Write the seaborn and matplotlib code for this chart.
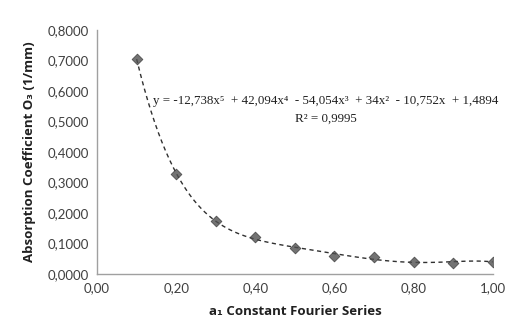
import numpy as np
import pandas as pd
import matplotlib
matplotlib.use('Agg')
import matplotlib.pyplot as plt
import seaborn as sns
from matplotlib.ticker import FuncFormatter

# values
a1_values = [0.1, 0.2, 0.3, 0.4, 0.5, 0.6, 0.7, 0.8, 0.9, 1.0]
absorption = [0.705, 0.328, 0.172, 0.120, 0.084, 0.059, 0.055, 0.038, 0.037, 0.040]
x_ticks = [0.0, 0.2, 0.4, 0.6, 0.8, 1.0]
y_ticks = [0.0, 0.1, 0.2, 0.3, 0.4, 0.5, 0.6, 0.7, 0.8]
equation = "y = -12,738x⁵  + 42,094x⁴  - 54,054x³  + 34x²  - 10,752x  + 1,4894"
r_squared = "R² = 0,9995"

df = pd.DataFrame({'a1': a1_values, 'absorption': absorption})

sns.set_style('white')
plt.rcParams['font.family'] = ['Open Sans', 'DejaVu Sans']

fig = plt.figure(figsize=(5.22, 3.36), dpi=100)
ax = fig.add_axes([0.186, 0.185, 0.758, 0.726])

sns.regplot(data=df, x='a1', y='absorption', order=5, ci=None, ax=ax,
            marker='D',
            scatter_kws={'s': 30, 'color': '#505050', 'edgecolors': '#3a3a3a',
                         'linewidths': 0.6, 'zorder': 3},
            line_kws={'color': '#303030', 'linestyle': (0, (3, 2.5)), 'linewidth': 1.0})

ax.set_xlim(0, 1.0)
ax.set_ylim(0, 0.8)
ax.set_xticks(x_ticks)
ax.set_yticks(y_ticks)
ax.xaxis.set_major_formatter(FuncFormatter(lambda v, p: f"{v:.2f}".replace('.', ',')))
ax.yaxis.set_major_formatter(FuncFormatter(lambda v, p: f"{v:.4f}".replace('.', ',')))
ax.tick_params(axis='both', length=0, labelsize=9.5, colors='#404040', pad=6)
for lab in ax.get_xticklabels() + ax.get_yticklabels():
    lab.set_family(['Lato', 'DejaVu Sans'])

for side in ['top', 'right']:
    ax.spines[side].set_visible(False)
for side in ['left', 'bottom']:
    ax.spines[side].set_color('#a0a0a0')
    ax.spines[side].set_linewidth(1.0)

ax.set_xlabel('a₁ Constant Fourier Series', fontsize=9.5, fontweight='bold',
              color='#202020', labelpad=8)
ax.set_ylabel('Absorption Coefficient O₃ (1/mm)', fontsize=9.5, fontweight='bold',
              color='#202020', labelpad=8)

ax.text(0.578, 0.567, equation, ha='center', va='center', fontsize=9.4,
        family=['Liberation Serif', 'DejaVu Serif'], color='#202020')
ax.text(0.578, 0.510, r_squared, ha='center', va='center', fontsize=9.4,
        family=['Liberation Serif', 'DejaVu Serif'], color='#202020')

fig.savefig('out.png', dpi=100)
